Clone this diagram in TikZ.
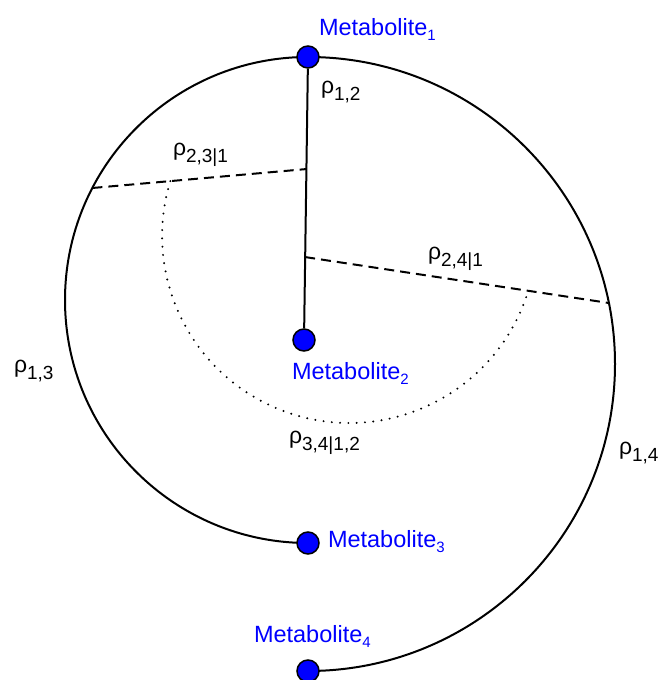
\documentclass[tikz,border=0pt]{standalone}
\usepackage{fontspec}
\setmainfont{Liberation Sans}
\usetikzlibrary{calc,backgrounds}
\definecolor{metblue}{RGB}{0,0,255}
\newcommand{\rholab}[1]{\fontsize{23}{27}\selectfont ρ\raisebox{-7pt}{\fontsize{19}{22}\selectfont #1}}
\newcommand{\metlab}[1]{\fontsize{23.5}{27}\selectfont Metabolite\raisebox{-4.5pt}{\fontsize{15}{17}\selectfont #1}}
\begin{document}
\begin{tikzpicture}[x=1pt,y=1pt,
  line width=2pt,
  met/.style={circle, draw=black, line width=1.5pt, fill=metblue, minimum size=22pt, inner sep=0pt},
  metlabel/.style={anchor=base west, inner sep=0pt, text=metblue},
  rholabel/.style={anchor=base west, inner sep=0pt, text=black},
  link/.style={line width=2pt},
  partial/.style={line width=2pt, dash pattern=on 10pt off 6pt},
  condarc/.style={line width=2.2pt, line cap=round, dash pattern=on 0pt off 8.3pt}]
\useasboundingbox (0,0) rectangle (662,680);

% metabolites
\node[met] (M1) at (308,623) {};
\node[met] (M2) at (304,340) {};
\node[met] (M3) at (308,137) {};
\node[met] (M4) at (308,9) {};

% helper coordinates
\coordinate (p23a) at (92.4,492);
\coordinate (p23b) at ($(M1)!0.396!(M2)$);
\coordinate (p24a) at ($(M1)!0.707!(M2)$);
\coordinate (p24b) at (608.9,377);
\coordinate (q1) at ($(p23a)!0.364!(p23b)$);

\begin{scope}[on background layer]
  \draw[link] (M1.center) arc[start angle=90, end angle=270, radius=243];
  \draw[link] (M1.center) arc[start angle=90, end angle=-90, radius=307];
  \draw[link] (M1) -- (M2);
  \draw[partial] (p23a) -- (p23b);
  \draw[partial] (p24a) -- (p24b);
  \draw[condarc] (q1) arc[start angle=163.02, end angle=343.02, radius=187.2];
\end{scope}

% labels
\node[metlabel] (L1) at (318,644) {\metlab{1}};
\node[metlabel] (L2) at (291,300) {\metlab{2}};
\node[metlabel] (L3) at (327,132) {\metlab{3}};
\node[metlabel] (L4) at (253,37) {\metlab{4}};

\node[rholabel] (r12) at (320,586) {\rholab{1,2}};
\node[rholabel] (r231) at (172,524) {\rholab{2,3|1}};
\node[rholabel] (r241) at (427,420) {\rholab{2,4|1}};
\node[rholabel] (r13) at (13,307) {\rholab{1,3}};
\node[rholabel] (r3412) at (288,236) {\rholab{3,4|1,2}};
\node[rholabel] (r14) at (618,225) {\rholab{1,4}};
\end{tikzpicture}
\end{document}
